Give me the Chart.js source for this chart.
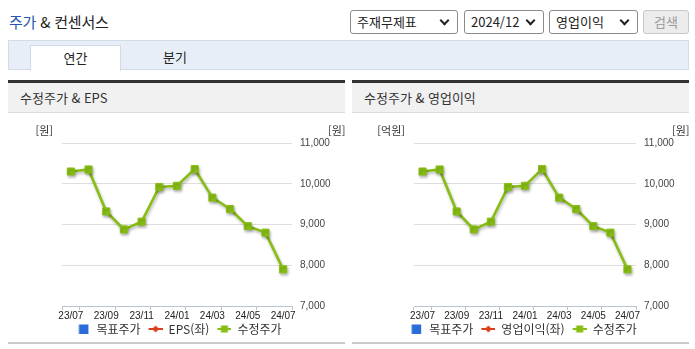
<!DOCTYPE html>
<html lang="ko">
<head>
<meta charset="utf-8">
<script src="https://cdn.jsdelivr.net/npm/chart.js@4.4.1/dist/chart.umd.min.js"></script>
<style>
  body { margin: 0; width: 695px; height: 349px; overflow: hidden; background: #fff;
         font-family: "Noto Sans CJK KR", "Noto Sans", sans-serif; color: #222; }
  .abs { position: absolute; }
  .title { left: 9px; top: 11px; font-size: 15px; color: #222; letter-spacing: -0.2px; }
  .title .hl { color: #2456b0; }
  .sel { top: 10px; height: 22px; border: 1px solid #8a8a8a; border-radius: 3px; background: #fff;
         font-size: 13px; line-height: 22px; padding-left: 6px; box-sizing: content-box; }
  .sel .chev { position: absolute; right: 9px; top: 6px; width: 5px; height: 5px;
               border-right: 2px solid #222; border-bottom: 2px solid #222; transform: rotate(45deg); }
  .btn { left: 643px; top: 10px; width: 44px; height: 22px; border: 1px solid #c8c8c8; border-radius: 3px;
         background: #ececec; color: #9a9a9a; font-size: 13px; line-height: 22px; text-align: center; }
  .tabbar { left: 8px; top: 40px; width: 679px; height: 28px; background: #e8eef8; border: 1px solid #d3dbe7; }
  .tab { top: 45px; height: 25px; font-size: 13px; text-align: center; line-height: 24px; }
  .tab.on { left: 30px; width: 89px; background: #fff; border: 1px solid #d3dbe7; border-bottom: none; }
  .panel { top: 80px; width: 337px; height: 263px; border-top: 3px solid #333; }
  .panel .head { height: 29px; background: #f1f1f1; border-bottom: 1px solid #dcdcdc;
                 font-size: 13px; line-height: 29px; padding-left: 12px; color: #333; }
  .panel .foot { position: absolute; left: 0; top: 259px; width: 337px; height: 2px; background: #c9c9c9; }
  .box { top: 113px; width: 337px; height: 232px; }
</style>
</head>
<body>
<div class="abs title"><span class="hl">주가</span> &amp; 컨센서스</div>

<div class="abs sel" style="left:350px;width:100px;">주재무제표<span class="chev"></span></div>
<div class="abs sel" style="left:464px;width:72px;">2024/12<span class="chev"></span></div>
<div class="abs sel" style="left:549px;width:81px;">영업이익<span class="chev"></span></div>
<div class="abs btn">검색</div>

<div class="abs tabbar"></div>
<div class="abs tab on">연간</div>
<div class="abs tab" style="left:130px;width:90px;">분기</div>

<div class="abs panel" style="left:8px;"><div class="head">수정주가 &amp; EPS</div><div class="foot"></div></div>
<div class="abs panel" style="left:352px;"><div class="head">수정주가 &amp; 영업이익</div><div class="foot"></div></div>

<div class="abs box" style="left:8px;"><canvas id="chartEps"></canvas></div>
<div class="abs box" style="left:352px;"><canvas id="chartOp"></canvas></div>

<script>
// data
const months = ['23/07', '23/08', '23/09', '23/10', '23/11', '23/12', '24/01',
                '24/02', '24/03', '24/04', '24/05', '24/06', '24/07'];
const adjPrice = [10300, 10350, 9320, 8880, 9070, 9920, 9950, 10360, 9660, 9380, 8960, 8800, 7900];
const targetPrice = [null, null, null, null, null, null, null, null, null, null, null, null, null];
const eps = [null, null, null, null, null, null, null, null, null, null, null, null, null];
const opProfit = [null, null, null, null, null, null, null, null, null, null, null, null, null];
const priceTicks = [7000, 8000, 9000, 10000, 11000];

const GREEN = '#88be14';
const RED = '#d9401c';
const BLUE = '#2a6dd8';

// small legend icons (5px blank on the left = gap from previous item)
function makeIcon(kind, color) {
    const c = document.createElement('canvas');
    c.width = 19; c.height = 12;
    const g = c.getContext('2d');
    g.fillStyle = color;
    g.strokeStyle = color;
    if (kind === 'box') {
        g.fillRect(7.5, 1.5, 9.5, 9.5);
    } else {
        g.lineWidth = 2;
        g.beginPath(); g.moveTo(5, 6); g.lineTo(19, 6); g.stroke();
        if (kind === 'diamond') {
            g.beginPath(); g.moveTo(12, 2.5); g.lineTo(15.5, 6); g.lineTo(12, 9.5); g.lineTo(8.5, 6); g.closePath(); g.fill();
        } else {
            g.fillRect(8.5, 2.5, 7, 7);
        }
    }
    return c;
}
const icons = [makeIcon('box', BLUE), makeIcon('diamond', RED), makeIcon('square', GREEN)];

// soft shadow under the price line
const shadowPlugin = {
    id: 'lineShadow',
    beforeDatasetDraw(chart, args) {
        const ctx = chart.ctx;
        ctx.save();
        ctx.shadowColor = 'rgba(0,0,0,0.28)';
        ctx.shadowBlur = 3;
        ctx.shadowOffsetX = 1;
        ctx.shadowOffsetY = 2;
    },
    afterDatasetDraw(chart) {
        chart.ctx.restore();
    }
};

// unit labels above the axes
const unitPlugin = {
    id: 'units',
    afterDraw(chart, args, opts) {
        const ctx = chart.ctx;
        const a = chart.chartArea;
        ctx.save();
        ctx.font = '11px "Noto Sans CJK KR", sans-serif';
        ctx.fillStyle = '#333';
        ctx.textBaseline = 'middle';
        ctx.textAlign = 'right';
        ctx.fillText(opts.left, a.left - 9, a.top - 12);
        ctx.textAlign = 'left';
        ctx.fillText(opts.right, a.right + 36, a.top - 12);
        ctx.restore();
    }
};

function tickColor(ctx) {
    const i = ctx.index;
    if (i === undefined || i === 0 || i % 2 === 1) return '#b9c4d2';
    return 'rgba(0,0,0,0)';
}

function buildChart(id, secondName, secondData, leftUnit, leftWidth) {
    const names = ['목표주가', secondName, '수정주가'];
    new Chart(document.getElementById(id), {
        type: 'line',
        data: {
            labels: months,
            datasets: [
                { label: names[0], data: targetPrice, yAxisID: 'y', borderColor: BLUE, backgroundColor: BLUE },
                { label: names[1], data: secondData, yAxisID: 'yl', borderColor: RED, backgroundColor: RED },
                {
                    label: names[2], data: adjPrice, yAxisID: 'y',
                    borderColor: GREEN, backgroundColor: GREEN, borderWidth: 2.6,
                    pointStyle: 'rect', pointRadius: 5, pointHoverRadius: 5,
                    pointBorderWidth: 1, pointBorderColor: GREEN, pointBackgroundColor: GREEN,
                    tension: 0
                }
            ]
        },
        options: {
            responsive: true,
            maintainAspectRatio: false,
            animation: false,
            layout: { padding: { left: 0, top: 30, right: 0, bottom: 0 } },
            scales: {
                x: {
                    offset: true,
                    grid: { offset: true, drawOnChartArea: false, drawTicks: true, tickLength: 4, color: tickColor },
                    border: { display: true, color: '#b9c4d2' },
                    ticks: {
                        autoSkip: false, maxRotation: 0, padding: 0,
                        color: '#222', font: { size: 10, family: 'Liberation Sans' },
                        callback: (v, i) => (i % 2 === 0 ? months[i] : '')
                    },
                    afterFit: s => { s.height = 14; }
                },
                y: {
                    position: 'right',
                    min: 7000, max: 11000,
                    afterBuildTicks: s => { s.ticks = priceTicks.map(v => ({ value: v })); },
                    grid: { color: '#dedede', drawTicks: false },
                    border: { display: false },
                    ticks: {
                        padding: 8, color: '#444', font: { size: 10, family: 'Liberation Sans' },
                        callback: v => v.toLocaleString('en-US')
                    },
                    afterFit: s => { s.width = 53; }
                },
                yl: {
                    position: 'left',
                    grid: { display: false },
                    border: { display: false },
                    ticks: { display: false },
                    afterFit: s => { s.width = leftWidth; }
                }
            },
            plugins: {
                legend: {
                    position: 'bottom',
                    labels: {
                        usePointStyle: true, pointStyleWidth: 19, padding: 3,
                        color: '#333', font: { size: 12, family: '"Noto Sans CJK KR", sans-serif' },
                        generateLabels: chart => names.map((n, i) => ({
                            text: n, pointStyle: icons[i], datasetIndex: i,
                            fillStyle: 'transparent', strokeStyle: 'transparent', lineWidth: 0,
                            fontColor: '#333', hidden: false
                        }))
                    }
                },
                tooltip: { enabled: false },
                units: { left: leftUnit, right: '[원]' }
            }
        },
        plugins: [shadowPlugin, unitPlugin]
    });
}

buildChart('chartEps', 'EPS(좌)', eps, '[원]', 54);
buildChart('chartOp', '영업이익(좌)', opProfit, '[억원]', 62);
</script>
</body>
</html>
